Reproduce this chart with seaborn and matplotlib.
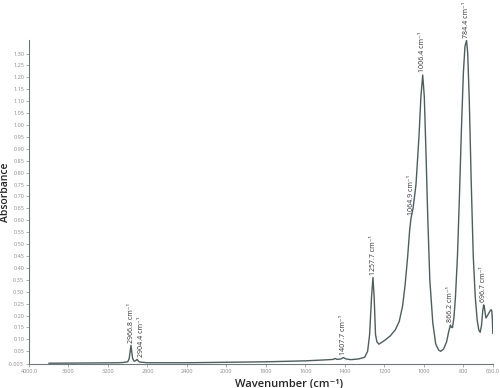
import numpy as np
import pandas as pd
import matplotlib
matplotlib.use("Agg")
import matplotlib.pyplot as plt
import seaborn as sns

# spectrum points (wavenumber cm-1, absorbance)
wavenumber = [3800, 3400, 3100, 3050, 3000, 2985, 2975, 2967, 2960, 2950,
              2935, 2915, 2904, 2895, 2880, 2850, 2800, 2400, 2200, 2000,
              1800, 1600, 1500, 1460, 1450, 1440, 1420, 1408, 1395, 1370,
              1330, 1300, 1285, 1275, 1265, 1258, 1252, 1245, 1238, 1228,
              1200, 1170, 1145, 1125, 1108, 1095, 1082, 1072, 1065, 1055,
              1040, 1025, 1015, 1006, 998, 990, 980, 970, 955, 940,
              925, 915, 900, 885, 875, 866, 860, 855, 848, 840,
              830, 820, 810, 800, 792, 784, 778, 770, 760, 750,
              740, 730, 722, 715, 708, 702, 697, 693, 686, 678,
              668, 660, 656, 653, 651]
absorbance = [0.000, 0.001, 0.002, 0.003, 0.006, 0.020, 0.050, 0.075, 0.050, 0.020,
              0.008, 0.012, 0.016, 0.010, 0.005, 0.004, 0.002, 0.002, 0.003, 0.004,
              0.006, 0.010, 0.014, 0.016, 0.020, 0.016, 0.018, 0.024, 0.018, 0.015,
              0.018, 0.025, 0.050, 0.120, 0.280, 0.360, 0.280, 0.120, 0.090, 0.080,
              0.095, 0.115, 0.140, 0.175, 0.240, 0.330, 0.450, 0.560, 0.610, 0.650,
              0.750, 0.950, 1.120, 1.210, 1.120, 0.900, 0.600, 0.350, 0.170, 0.080,
              0.055, 0.050, 0.060, 0.090, 0.130, 0.160, 0.150, 0.150, 0.190, 0.280,
              0.450, 0.700, 0.980, 1.220, 1.330, 1.355, 1.300, 1.100, 0.750, 0.450,
              0.280, 0.180, 0.140, 0.130, 0.160, 0.220, 0.245, 0.230, 0.190, 0.200,
              0.215, 0.225, 0.220, 0.180, 0.125]

# labelled peaks (label nudge to the right in points)
peak_pos = [2966.8, 2904.4, 1407.7, 1257.7, 1064.9, 1006.4, 866.2, 784.4, 696.7]
peak_val = [0.075, 0.016, 0.024, 0.360, 0.610, 1.210, 0.160, 1.355, 0.245]
peak_dx = [0, 3, 0, 0, 0, 0, 0, 0, 0]

xticks = [4000, 3600, 3200, 2800, 2400, 2000, 1800, 1600, 1400, 1200, 1000, 800, 650]
xticklabels = ["4000.0", "3600", "3200", "2800", "2400", "2000", "1800", "1600",
               "1400", "1200", "1000", "800", "650.0"]
yticks = [-0.003] + [round(0.05 * i, 2) for i in range(1, 27)]
yticklabels = ["-0.003"] + [f"{v:.2f}" for v in yticks[1:]]

df = pd.DataFrame({"Wavenumber": wavenumber, "Absorbance": absorbance})


# FTIR-style scale change at 2000 cm-1 (region below is expanded 2x)
def fwd(w):
    w = np.asarray(w, dtype=float)
    return np.where(w <= 2000, w, 2000 + (w - 2000) / 2)


def inv(t):
    t = np.asarray(t, dtype=float)
    return np.where(t <= 2000, t, 2000 + (t - 2000) * 2)


sns.set_style("ticks")
plt.rcParams["font.family"] = ["Open Sans", "DejaVu Sans"]

fig = plt.figure(figsize=(5, 3.88), dpi=100)
ax = fig.add_axes([0.058, 0.062, 0.928, 0.835])

sns.lineplot(data=df, x="Wavenumber", y="Absorbance", ax=ax, sort=False,
             estimator=None, color="#4f5d5d", linewidth=1.0)

ax.set_xscale("function", functions=(fwd, inv))
ax.set_xlim(4000, 650)
ax.set_ylim(-0.003, 1.357)

ax.set_xticks(xticks)
ax.set_xticklabels(xticklabels)
ax.set_yticks(yticks)
ax.set_yticklabels(yticklabels)
ax.minorticks_off()
ax.tick_params(axis="both", labelsize=4, labelcolor="#8a8a8a", color="#8a8a8a",
               length=2, width=0.5, direction="out", pad=1.5)

sns.despine(ax=ax)
for side in ["left", "bottom"]:
    ax.spines[side].set_color("#6f7878")
    ax.spines[side].set_linewidth(0.8)

ax.set_xlabel("Wavenumber (cm\u207b\u00b9)", fontsize=8, fontweight="semibold")
ax.set_ylabel("Absorbance", fontsize=7.5, fontweight="semibold")
ax.xaxis.set_label_coords(0.56, -0.045)
ax.yaxis.set_label_coords(-0.038, 0.53)

for w, a, dx in zip(peak_pos, peak_val, peak_dx):
    ax.annotate(f"{w:.1f} cm\u207b\u00b9", xy=(w, a), xytext=(dx, 2),
                textcoords="offset points", rotation=90, ha="center",
                va="bottom", fontsize=5, color="#333333")

fig.savefig("out.png", dpi=100)
